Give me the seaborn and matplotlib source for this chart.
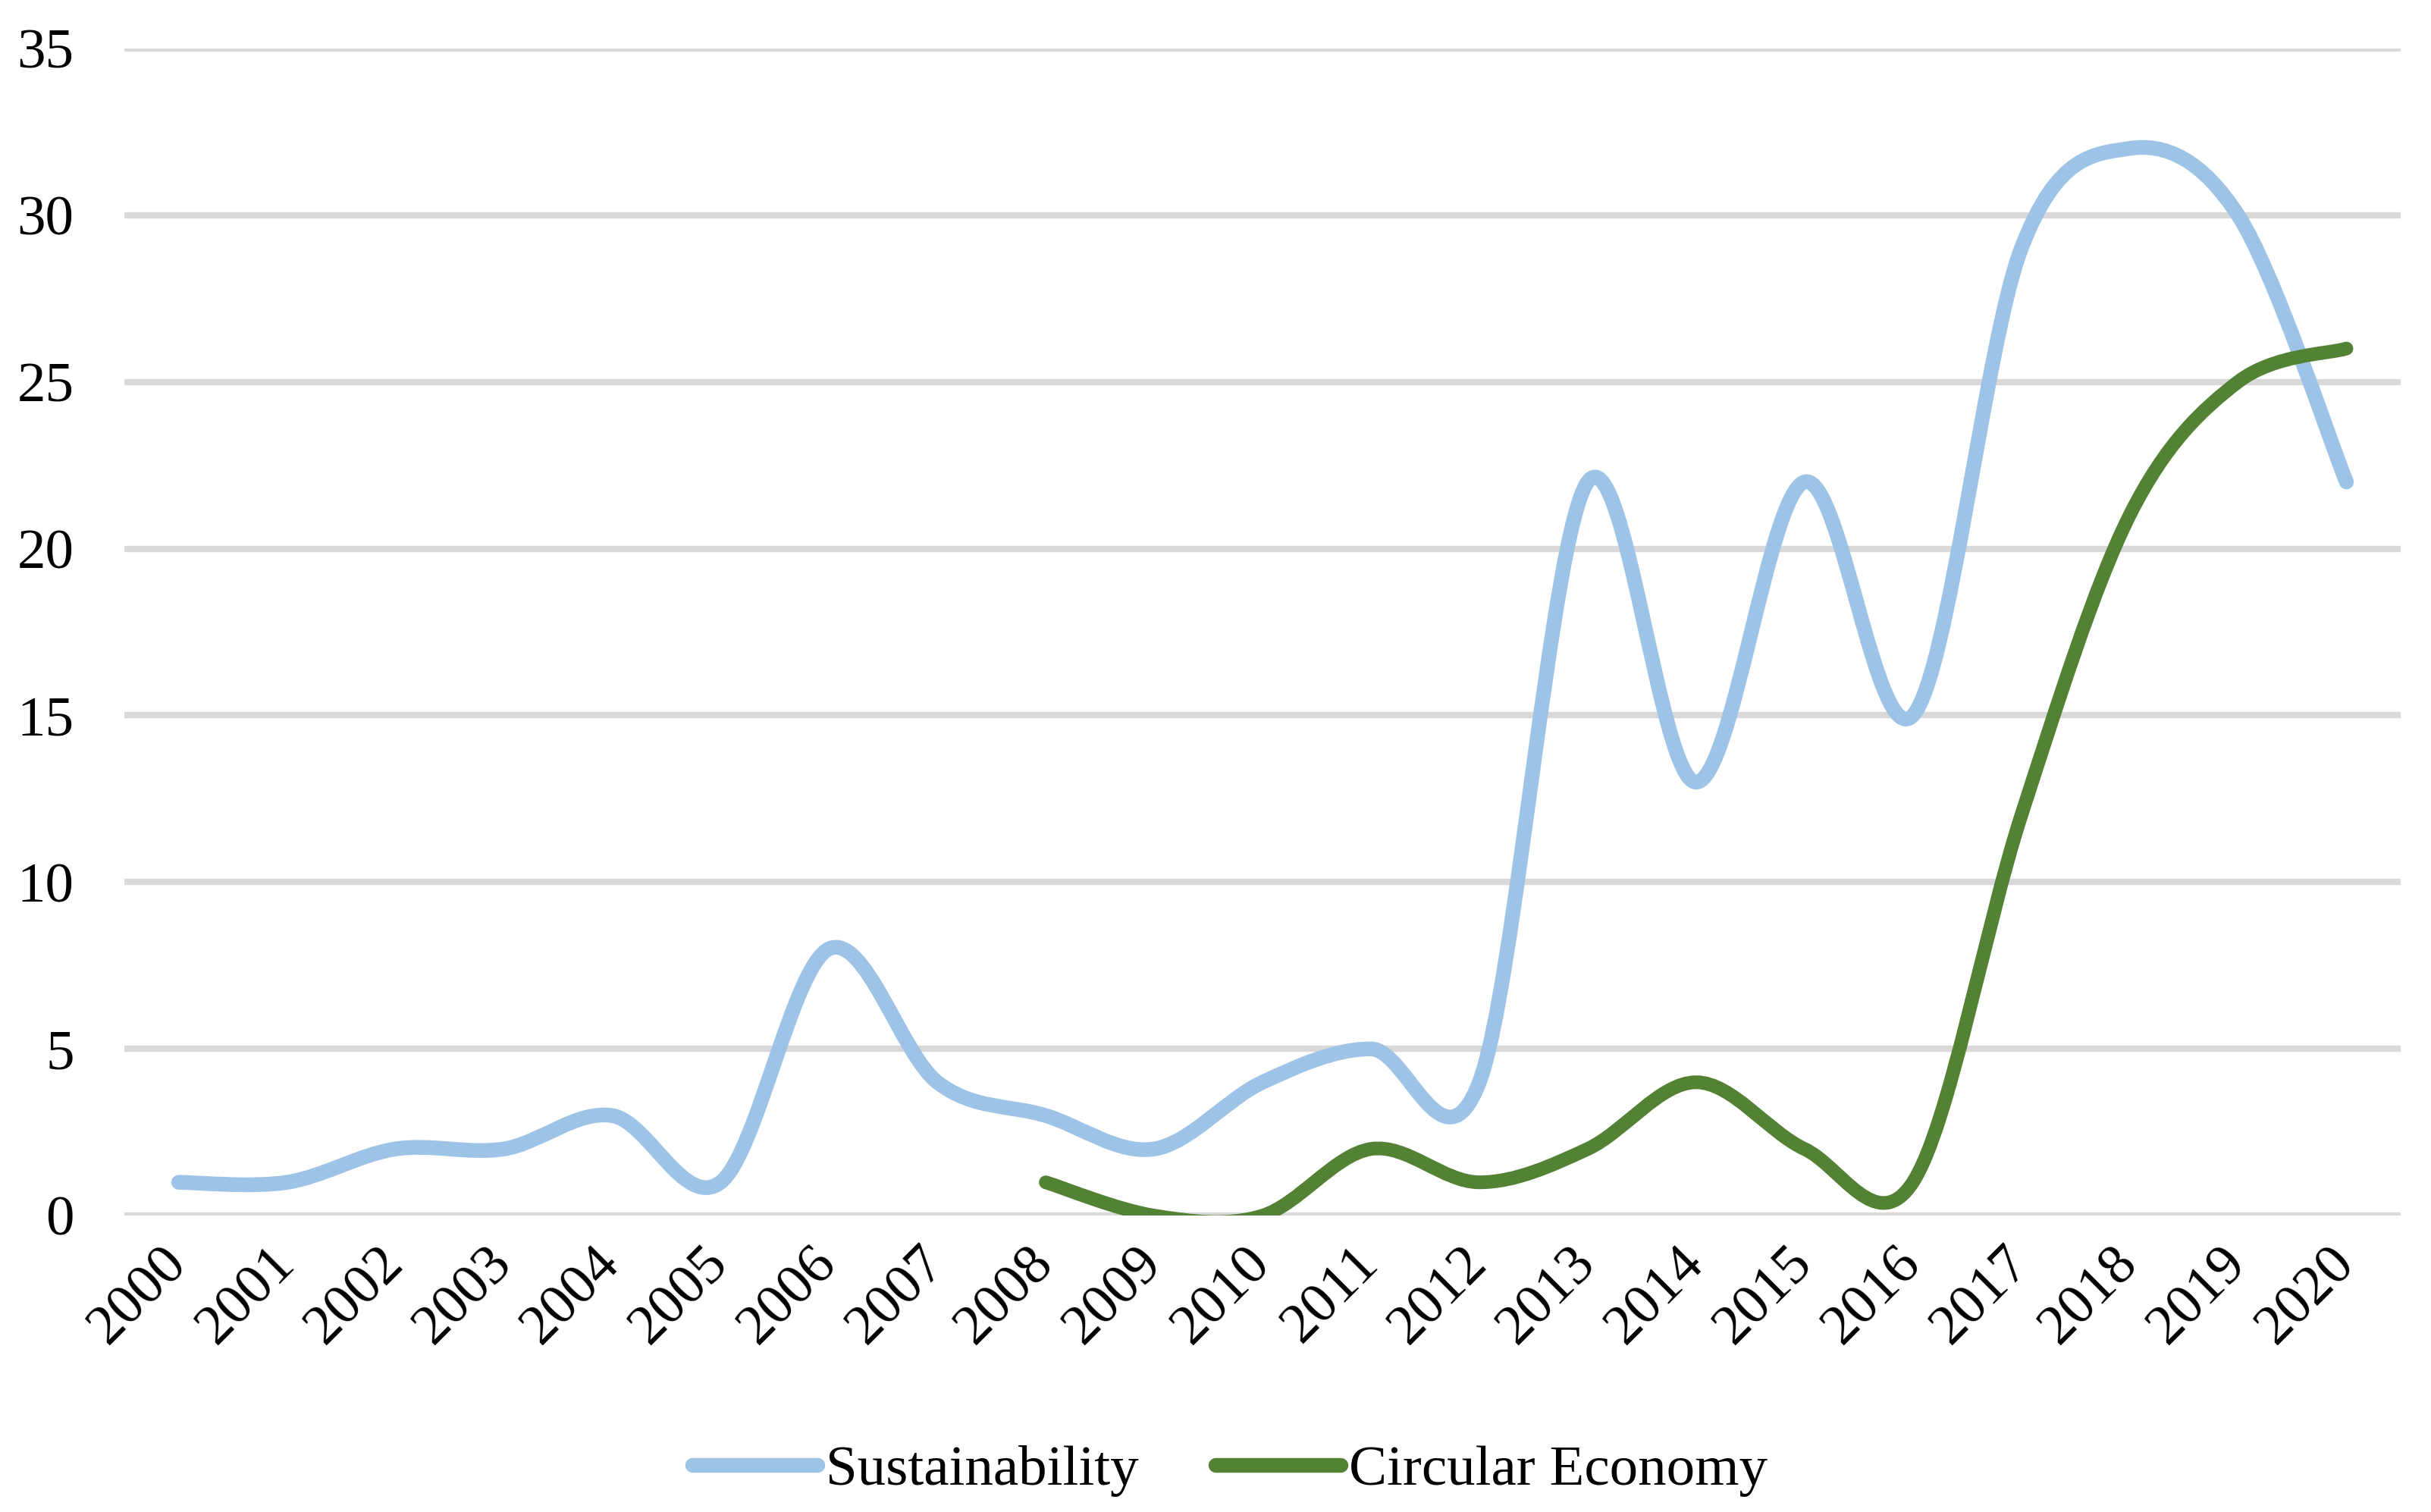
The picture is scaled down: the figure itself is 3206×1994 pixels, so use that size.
import matplotlib
matplotlib.use('Agg')
import matplotlib.pyplot as plt
from matplotlib.path import Path
from matplotlib.patches import PathPatch
from matplotlib.lines import Line2D
import numpy as np
import seaborn as sns

# Data
years = [str(y) for y in range(2000, 2021)]
sustainability = [1, 1, 2, 2, 3, 1, 8, 4, 3, 2, 4, 5, 4, 22, 13, 22, 15, 29, 32, 30, 22]
circular_years = [str(y) for y in range(2008, 2021)]
circular_economy = [1, 0, 0, 2, 1, 2, 4, 2, 1, 12, 21, 25, 26]

blue = '#9DC3E6'
green = '#548235'


# Excel-like smoothed line: cubic Bezier segments through the data points
def smooth_path(xs, ys):
    xs = np.asarray(xs, dtype=float)
    ys = np.asarray(ys, dtype=float)
    n = len(xs)
    mx = np.zeros(n)
    my = np.zeros(n)
    for i in range(n):
        lo = max(i - 1, 0)
        hi = min(i + 1, n - 1)
        mx[i] = (xs[hi] - xs[lo]) / 2
        my[i] = (ys[hi] - ys[lo]) / 2
    verts = [(xs[0], ys[0])]
    codes = [Path.MOVETO]
    for i in range(n - 1):
        verts += [(xs[i] + mx[i] / 3, ys[i] + my[i] / 3),
                  (xs[i + 1] - mx[i + 1] / 3, ys[i + 1] - my[i + 1] / 3),
                  (xs[i + 1], ys[i + 1])]
        codes += [Path.CURVE4] * 3
    return Path(verts, codes)


sns.set_theme(style='white')
plt.rcParams['font.family'] = ['Liberation Serif', 'DejaVu Serif']
plt.rcParams['text.color'] = 'black'

fig, ax = plt.subplots(figsize=(16.03, 9.97), dpi=200)
fig.subplots_adjust(left=0.0512, right=0.9875, top=0.968, bottom=0.196)

x_pos = {y: i for i, y in enumerate(years)}

ax.add_patch(PathPatch(smooth_path([x_pos[y] for y in years], sustainability),
                       fill=False, edgecolor=blue, lw=7, capstyle='round',
                       joinstyle='round', zorder=3))
ax.add_patch(PathPatch(smooth_path([x_pos[y] for y in circular_years], circular_economy),
                       fill=False, edgecolor=green, lw=6.5, capstyle='round',
                       joinstyle='round', zorder=4))

ax.set_xlim(-0.5, len(years) - 0.5)
ax.set_ylim(0, 35)
ax.set_yticks(range(0, 36, 5))
ax.set_xticks(range(len(years)))
ax.set_xticklabels(years, rotation=45, ha='right', va='center', rotation_mode='anchor')

ax.yaxis.grid(True, color='#D9D9D9', lw=3)
ax.xaxis.grid(False)
ax.set_axisbelow(True)
sns.despine(ax=ax, left=True, bottom=True)
ax.tick_params(axis='y', length=0, pad=24, labelsize=27, labelcolor='black')
ax.tick_params(axis='x', length=0, pad=19, labelsize=27, labelcolor='black')

handles = [Line2D([], [], color=blue, lw=7, solid_capstyle='round'),
           Line2D([], [], color=green, lw=7, solid_capstyle='round')]
ax.legend(handles, ['Sustainability', 'Circular Economy'], loc='center',
          bbox_to_anchor=(0.506, 0.027), bbox_transform=fig.transFigure,
          ncol=2, frameon=False, fontsize=27, labelcolor='black',
          handlelength=2.2, handletextpad=0.15, columnspacing=1.35)

fig.savefig('out.png', dpi=200, facecolor='white')
